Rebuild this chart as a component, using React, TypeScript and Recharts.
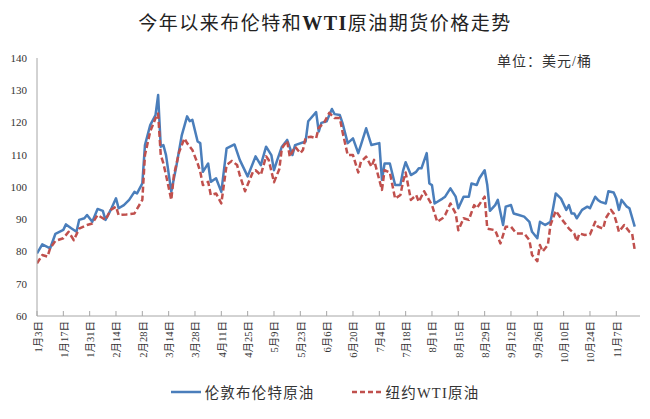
import React from "react";
import { LineChart, Line, XAxis, YAxis } from "recharts";

const TITLE_A = "今年以来布伦特和";
const TITLE_B = "WTI";
const TITLE_C = "原油期货价格走势";
const UNIT = "单位：美元/桶";
const BRENT_NAME = "伦敦布伦特原油";
const WTI_NAME = "纽约WTI原油";

const tickLabels = [
  "1月3日", "1月17日", "1月31日", "2月14日", "2月28日", "3月14日", "3月28日", "4月11日",
  "4月25日", "5月9日", "5月23日", "6月6日", "6月20日", "7月4日", "7月18日", "8月1日",
  "8月15日", "8月29日", "9月12日", "9月26日", "10月10日", "10月24日", "11月7日",
];
const tickDays = [0, 10, 20, 30, 40, 50, 60, 70, 80, 90, 100, 110, 120, 130, 140, 150, 160, 170, 180, 190, 200, 210, 220];
const yTicks = [60, 70, 80, 90, 100, 110, 120, 130, 140];

const brentDays = [
  0, 2, 5, 7, 10, 11, 13, 15, 16, 18, 19, 21, 23, 25, 26, 28, 30, 31, 33, 35, 37, 38, 40, 41, 43, 45, 46, 47, 48, 49,
  51, 53, 55, 57, 58, 59, 61, 62, 63, 65, 66, 68, 70, 72, 75, 77, 80, 83, 85, 87, 89, 90, 91, 93, 95, 97, 98, 102, 103, 106,
  107, 108, 110, 112, 113, 115, 116, 118, 120, 122, 123, 125, 127, 130, 131, 132, 134, 136, 138, 139, 140, 142, 144, 145, 146, 148, 149, 150, 151, 154,
  155, 157, 159, 160, 162, 164, 165, 167, 168, 170, 171, 172, 174, 175, 177, 178, 180, 181, 183, 185, 187, 188, 190, 191, 193, 195, 196, 197, 199, 201,
  202, 203, 204, 205, 207, 209, 210, 212, 213, 214, 216, 217, 219, 220, 221, 222, 224, 225, 227,
];
const brentPrices = [
  79.4, 82.2, 81.0, 85.5, 86.7, 88.4, 87.2, 86.1, 89.8, 90.3, 91.3, 89.2, 93.2, 92.6, 89.8, 92.9, 96.5, 93.4, 94.4, 96.0, 98.5, 98.0, 101.1, 113.0, 119.2, 122.3, 128.5, 112.5, 113.0, 109.9,
  98.5, 106.8, 116.1, 121.9, 120.4, 120.8, 114.1, 113.6, 104.7, 107.3, 101.6, 102.7, 98.5, 112.0, 113.2, 108.4, 103.3, 109.5, 106.8, 112.5, 109.9, 105.2, 107.8, 112.5, 114.6, 109.9, 113.0, 114.1, 120.4, 123.2,
  117.2, 119.9, 120.4, 124.2, 122.6, 122.3, 119.9, 113.6, 115.1, 110.5, 113.0, 118.2, 113.0, 113.6, 102.2, 107.3, 107.3, 100.6, 100.6, 105.0, 107.7, 103.7, 104.7, 105.8, 105.8, 110.5, 101.1, 100.6, 94.9, 96.4,
  97.0, 99.6, 97.0, 93.4, 97.0, 97.0, 101.1, 100.6, 102.7, 105.2, 100.6, 92.6, 94.4, 96.0, 88.2, 93.9, 94.4, 91.8, 91.3, 90.8, 89.2, 86.1, 84.1, 89.2, 88.2, 89.2, 93.4, 98.0, 96.4, 92.9,
  94.4, 91.8, 91.8, 90.3, 92.9, 93.9, 93.4, 97.0, 96.0, 95.4, 94.9, 98.7, 98.3, 96.4, 92.9, 96.0, 93.9, 93.4, 87.7,
];

const wtiDays = [
  0, 2, 4, 5, 7, 10, 12, 14, 16, 19, 21, 23, 25, 26, 28, 30, 31, 34, 37, 40, 41, 43, 45, 46, 47, 48, 49, 51, 52, 54,
  56, 57, 59, 61, 62, 63, 65, 66, 68, 70, 72, 74, 76, 77, 79, 82, 83, 85, 87, 88, 90, 92, 93, 95, 96, 98, 100, 101, 102, 104,
  106, 107, 109, 111, 113, 115, 116, 118, 120, 122, 123, 125, 127, 128, 131, 132, 134, 136, 138, 139, 140, 142, 144, 145, 147, 150, 152, 154, 155, 157,
  159, 160, 162, 164, 166, 167, 170, 171, 174, 176, 178, 180, 182, 183, 185, 187, 188, 190, 191, 192, 194, 195, 197, 199, 201, 202, 204, 205, 206, 208,
  210, 212, 213, 215, 216, 218, 219, 220, 221, 223, 225, 226, 227,
];
const wtiPrices = [
  76.3, 78.9, 78.4, 81.0, 83.3, 84.1, 86.1, 83.5, 87.1, 88.2, 88.7, 91.3, 90.3, 89.8, 92.9, 93.9, 91.3, 91.5, 91.8, 96.0, 109.9, 117.2, 121.3, 122.8, 109.9, 107.3, 103.7, 96.0, 103.7, 110.9,
  115.1, 113.6, 111.5, 107.3, 104.7, 100.6, 101.6, 97.5, 98.0, 94.9, 106.8, 108.1, 106.8, 103.7, 98.7, 104.7, 105.2, 103.7, 109.5, 108.4, 101.5, 105.5, 112.0, 114.3, 109.4, 112.5, 110.5, 111.5, 115.3, 115.6,
  115.1, 118.4, 119.9, 123.0, 121.4, 121.4, 117.2, 109.9, 109.9, 104.5, 107.8, 109.4, 106.3, 108.4, 99.1, 105.2, 104.5, 96.4, 97.5, 101.6, 104.5, 96.0, 97.5, 95.4, 98.7, 94.4, 89.2, 90.3, 91.3, 94.9,
  91.8, 86.6, 90.3, 89.8, 94.4, 93.4, 97.0, 87.1, 86.6, 82.5, 87.7, 87.7, 85.6, 85.6, 85.6, 83.5, 78.9, 77.0, 82.0, 80.0, 82.0, 88.2, 92.6, 90.3, 88.2, 87.1, 85.6, 83.2, 85.6, 85.1,
  85.3, 89.2, 87.7, 87.1, 90.3, 92.9, 91.8, 89.2, 86.1, 88.2, 86.1, 85.6, 80.5,
];

const brentData = brentDays.map((d, i) => ({ day: d, price: brentPrices[i] }));
const wtiData = wtiDays.map((d, i) => ({ day: d, price: wtiPrices[i] }));

const BLUE = "#4a7ebb";
const RED = "#c0504d";
const AXIS = "#a6a6a6";
const FONT = "'Liberation Serif', 'Noto Sans CJK SC', serif";

const XTick = (props: any) => {
  const { x, y, payload } = props;
  const idx = tickDays.indexOf(payload.value);
  const label = idx >= 0 ? tickLabels[idx] : "";
  return (
    <g>
      <line x1={x} x2={x} y1={y} y2={y - 5} stroke={AXIS} strokeWidth={1} />
      <text
        transform={`translate(${x + 1}, ${y + 5}) rotate(-90)`}
        textAnchor="end"
        dominantBaseline="central"
        fontSize={10.5}
        fill="#333"
        fontFamily={FONT}
      >
        {label}
      </text>
    </g>
  );
};

export default function App() {
  return (
    <div style={{ position: "absolute", left: 0, top: 0, width: 650, height: 419, background: "#fff", fontFamily: FONT }}>
      <div
        style={{
          position: "absolute",
          top: 9,
          left: 0,
          width: 650,
          textAlign: "center",
          fontSize: 19,
          letterSpacing: 1.5,
          color: "#222",
          lineHeight: "28px",
        }}
      >
        {TITLE_A}
        <b style={{ fontSize: 20 }}>{TITLE_B}</b>
        {TITLE_C}
      </div>
      <div
        style={{
          position: "absolute",
          top: 52,
          left: 497,
          fontSize: 14,
          letterSpacing: 1,
          color: "#333",
          lineHeight: "20px",
        }}
      >
        {UNIT}
      </div>
      <LineChart width={650} height={419} data={brentData} margin={{ top: 58, right: 10, bottom: 0, left: 0 }}>
        <XAxis
          dataKey="day"
          type="number"
          domain={[0, 229]}
          ticks={tickDays}
          interval={0}
          tick={<XTick />}
          tickLine={false}
          tickSize={0}
          tickMargin={0}
          height={103}
          stroke={AXIS}
          allowDataOverflow
        />
        <YAxis
          domain={[60, 140]}
          ticks={yTicks}
          interval={0}
          width={37}
          tickLine={false}
          tickSize={0}
          tickMargin={10}
          stroke={AXIS}
          tick={{ fontSize: 11, fill: "#333", fontFamily: FONT }}
        />
        <Line
          data={brentData}
          dataKey="price"
          stroke={BLUE}
          strokeWidth={2.5}
          dot={false}
          isAnimationActive={false}
          strokeLinejoin="round"
        />
        <Line
          data={wtiData}
          dataKey="price"
          stroke={RED}
          strokeWidth={2.5}
          strokeDasharray="6 3"
          dot={false}
          isAnimationActive={false}
          strokeLinejoin="round"
        />
      </LineChart>
      <div
        style={{
          position: "absolute",
          top: 381,
          left: 0,
          width: 650,
          display: "flex",
          justifyContent: "center",
          alignItems: "center",
          fontSize: 14.5,
          letterSpacing: 1.2,
          color: "#333",
        }}
      >
        <svg width={30} height={10} style={{ marginRight: 4 }}>
          <line x1={0} x2={30} y1={5} y2={5} stroke={BLUE} strokeWidth={2.5} />
        </svg>
        <span style={{ marginRight: 37 }}>{BRENT_NAME}</span>
        <svg width={30} height={10} style={{ marginRight: 4 }}>
          <line x1={0} x2={30} y1={5} y2={5} stroke={RED} strokeWidth={2.5} strokeDasharray="5 3" />
        </svg>
        <span>{WTI_NAME}</span>
      </div>
    </div>
  );
}
